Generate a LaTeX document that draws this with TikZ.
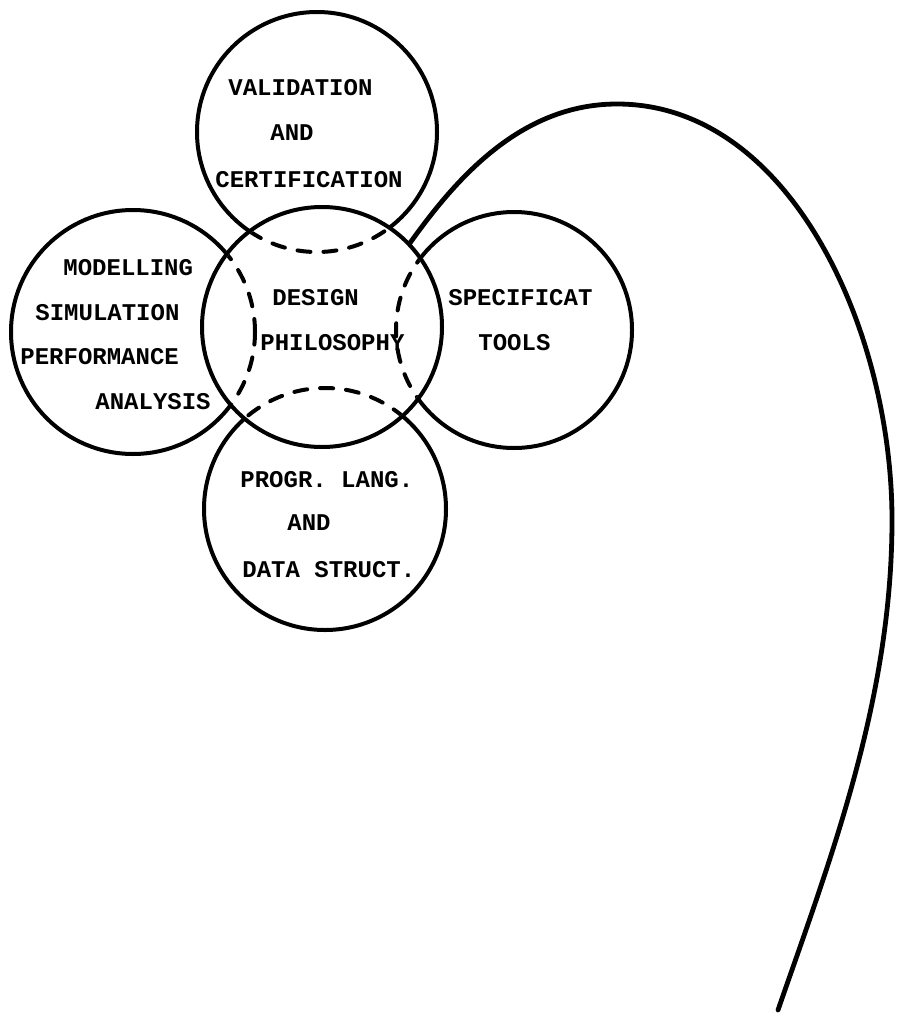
\documentclass[tikz,border=0pt]{standalone}
\usepackage{fontspec}
\newfontfamily\typew{Liberation Mono}
\begin{document}
\begin{tikzpicture}[x=0.5pt,y=-0.5pt,
  outline/.style={line width=2pt},
  hidden/.style={line width=2pt, line cap=round, dash pattern=on 6.5pt off 6.5pt},
  stem/.style={line width=2.4pt, line cap=round},
  label/.style={anchor=west, inner sep=0pt, font=\typew\bfseries\fontsize{12pt}{14pt}\selectfont}]
\useasboundingbox (0,0) rectangle (897,1017);

% circle centres
\coordinate (cval)  at (317,132);
\coordinate (cmod)  at (133,332);
\coordinate (cdes)  at (322,327);
\coordinate (cspec) at (514,330);
\coordinate (cprog) at (325,509);

% outer circles, full outlines
\draw[outline] (cval)  circle[radius=60pt];
\draw[outline] (cmod)  circle[radius=61pt];
\draw[outline] (cspec) circle[radius=59pt];
\draw[outline] (cprog) circle[radius=60.5pt];

% blank the central disc, then show the hidden arcs dashed
\fill[white] (cdes) circle[radius=60pt];
\begin{scope}
  \clip (cdes) circle[radius=59pt];
  \draw[hidden] (cval)  circle[radius=60pt];
  \draw[hidden] (cmod)  circle[radius=61pt];
  \draw[hidden] (cspec) circle[radius=59pt];
  \draw[hidden] (cprog) circle[radius=60.5pt];
\end{scope}
\draw[outline] (cdes) circle[radius=60pt];

% the long stem leaving the central circle
\coordinate (stemtop)  at (410,243);
\coordinate (stemcrest) at (617,104);
\coordinate (stemside) at (892,520);
\coordinate (stemend)  at (778,1010);
\draw[stem] (stemtop)
  .. controls (455,180) and (520,104) .. (stemcrest)
  .. controls (790,104) and (892,330) .. (stemside)
  .. controls (892,700) and (830,860) .. (stemend);

% texts
\node[label] (v1) at (228,88)  {VALIDATION};
\node[label] (v2) at (270,133) {AND};
\node[label] (v3) at (215,180) {CERTIFICATION};

\node[label] (m1) at (63,268)  {MODELLING};
\node[label] (m2) at (35,313)  {SIMULATION};
\node[label] (m3) at (20,357)  {PERFORMANCE};
\node[label] (m4) at (95,402)  {ANALYSIS};

\node[label] (d1) at (272,298) {DESIGN};
\node[label] (d2) at (260,343) {PHILOSOPHY};

\node[label] (s1) at (448,298) {SPECIFICAT};
\node[label] (s2) at (478,343) {TOOLS};

\node[label] (p1) at (240,480) {PROGR. LANG.};
\node[label] (p2) at (287,523) {AND};
\node[label] (p3) at (242,570) {DATA STRUCT.};
\end{tikzpicture}
\end{document}
